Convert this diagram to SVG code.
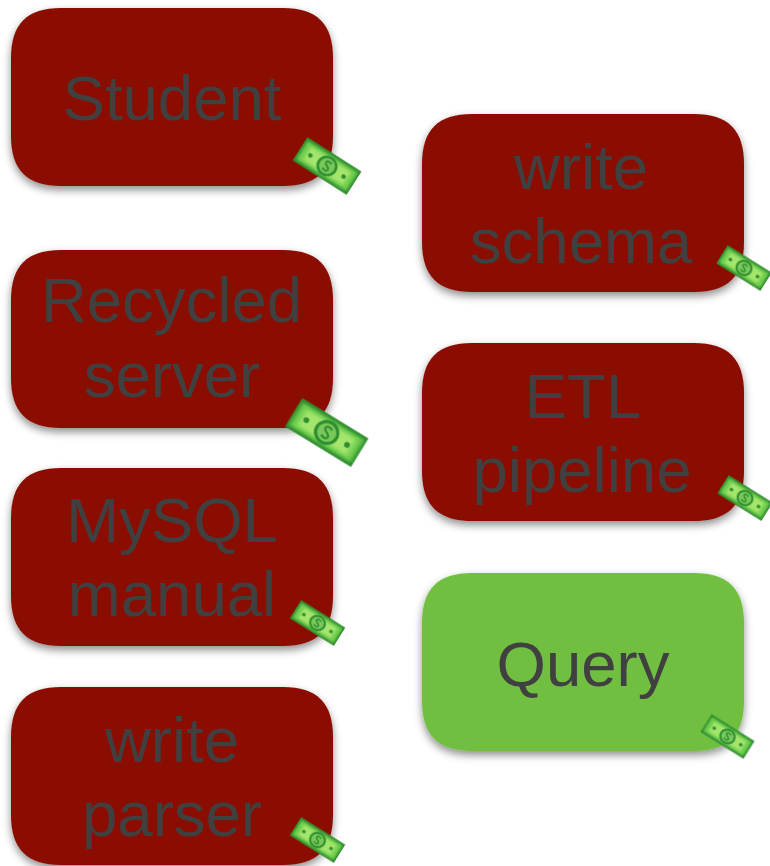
<svg xmlns="http://www.w3.org/2000/svg" width="770" height="866" viewBox="0 0 770 866">
<style>
.box{fill:#8a1100;filter:url(#sh)}
.ok{fill:#70bf41}
text{font-family:"Liberation Sans",Arial,sans-serif;font-size:63.500px;fill:#404040;text-anchor:middle}
</style>
<defs>
<filter id="sh" x="-10%" y="-10%" width="120%" height="125%"><feDropShadow dx="0" dy="4" stdDeviation="4" flood-color="#000" flood-opacity=".45"/></filter>
<filter id="bl" x="-20%" y="-30%" width="140%" height="160%"><feGaussianBlur stdDeviation="1.600"/></filter>
<filter id="b2" x="-5%" y="-10%" width="110%" height="120%"><feGaussianBlur stdDeviation=".5"/></filter>
<path id="bx" d="M0 50C0 16 16 0 50 0H272C306 0 322 16 322 50V128C322 162 306 178 272 178H50C16 178 0 162 0 128Z"/>
<g id="bill" filter="url(#b2)">
<rect x="-32.500" y="-14.500" width="65" height="29" fill="#2c8a2c"/>
<rect x="-30" y="-11.500" width="60" height="23" fill="#6fcf50" filter="url(#bl)"/>
<rect x="-24" y="-8" width="48" height="16" fill="#a4e56c" filter="url(#bl)"/>
<circle r="9.500" fill="#78c95a" stroke="#2f8f30" stroke-width="2.800"/>
<path d="M3-4C-3-7-5-2 0 0S3 7-3 4" fill="none" stroke="#2f8f30" stroke-width="2"/>
<circle cx="-20" cy="0" r="2.500" fill="#2f8f30"/>
<circle cx="20" cy="0" r="2.500" fill="#2f8f30"/>
</g>
</defs>
<g id="student"><use href="#bx" class="box" x="11" y="8"/><text x="172" y="120">Student</text><use href="#bill" transform="translate(327 166) rotate(32.500) scale(.985 .95)"/></g>
<g id="recycled-server"><use href="#bx" class="box" x="11" y="250"/><text x="171.500" y="322">Recycled</text><text x="172" y="397">server</text><use href="#bill" transform="translate(326.700 432.500) rotate(31.500) scale(1.19 1.15)"/></g>
<g id="mysql-manual"><use href="#bx" class="box" x="11" y="468"/><text x="172" y="542">MySQL</text><text x="172" y="616">manual</text><use href="#bill" transform="translate(317.500 623) rotate(32) scale(.8 .74)"/></g>
<g id="write-parser"><use href="#bx" class="box" x="11" y="687"/><text x="172" y="762">write</text><text x="172" y="836">parser</text><use href="#bill" transform="translate(317.500 840) rotate(32) scale(.8 .74)"/></g>
<g id="write-schema"><use href="#bx" class="box" x="422" y="114"/><text x="581" y="189">write</text><text x="581" y="263">schema</text><use href="#bill" transform="translate(744 268) rotate(32) scale(.8 .74)"/></g>
<g id="etl-pipeline"><use href="#bx" class="box" x="422" y="343"/><text x="583" y="418">ETL</text><text x="582" y="492">pipeline</text><use href="#bill" transform="translate(745 498) rotate(32) scale(.8 .74)"/></g>
<g id="query"><use href="#bx" class="box ok" x="422" y="573"/><text x="583" y="686">Query</text><use href="#bill" transform="translate(727.500 736.500) rotate(32) scale(.78 .72)"/></g>
</svg>
